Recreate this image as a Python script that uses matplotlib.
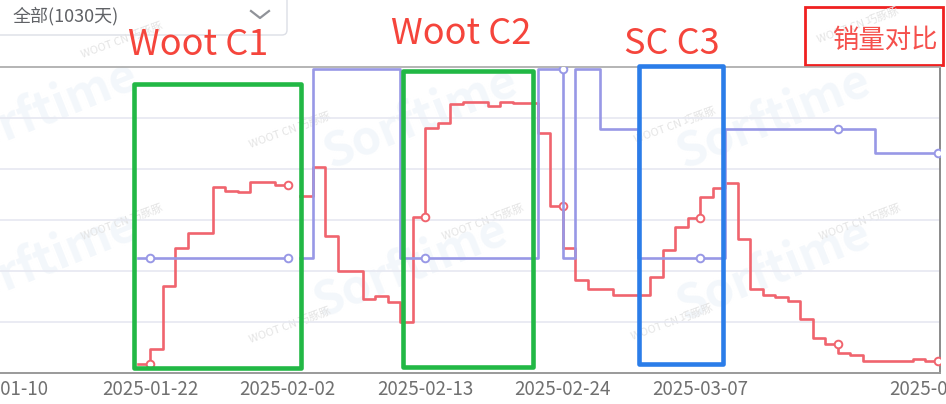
import numpy as np
import pandas as pd
import matplotlib
matplotlib.use("Agg")
import matplotlib.pyplot as plt
import matplotlib.dates as mdates
from matplotlib.patches import Rectangle, FancyBboxPatch

plt.rcParams['font.family'] = ['Noto Sans CJK SC', 'DejaVu Sans']

# daily points 2025-01-21 .. 2025-03-26, relative scale (the chart shows no y labels)
dates = pd.date_range("2025-01-21", "2025-03-26", freq="D")
nan = np.nan
sales = [0.18, 0.18, 0.47, 1.71, 2.45, 2.75, 2.75, 3.65, 3.57, 3.55,
         3.75, 3.75, 3.69, nan, 3.47, 4.04, 2.69, 2.00, 2.00, 1.45,
         1.51, 1.39, 1.00, 3.06, 4.80, 4.91, 5.27, 5.32, 5.32, 5.24,
         5.31, 5.30, 5.29, 4.71, 3.28, 2.45, 1.82, 1.64, 1.64, 1.52,
         1.52, 1.52, 1.88, 2.41, 2.86, 3.04, 3.46, 3.62, 3.73, 2.63,
         1.64, 1.52, 1.49, 1.42, 1.05, 0.68, 0.57, 0.39, 0.35, 0.24,
         0.24, 0.24, 0.24, 0.27, 0.24]
compare = [2.25, 2.25, 2.25, 2.25, 2.25, 2.25, 2.25, 2.25, 2.25, 2.25,
           2.25, 2.25, 2.25, nan, 2.25, 5.97, 5.97, 5.97, 5.97, 5.97,
           5.97, 5.97, 2.25, 2.25, 2.25, 2.25, 2.25, 2.25, 2.25, 2.25,
           2.25, 2.25, 2.25, 5.97, 5.97, 2.25, 5.97, 5.97, 4.78, 4.78,
           4.78, 2.25, 2.25, 2.25, 2.25, 2.25, 2.25, 2.25, 4.78, 4.78,
           4.78, 4.78, 4.78, 4.78, 4.78, 4.78, 4.78, 4.78, 4.78, 4.78,
           4.31, 4.31, 4.31, 4.31, 4.31]
marker_idx = [1, 12, 23, 34, 45, 56, 64]

tick_dates = ["2025-01-10", "2025-01-22", "2025-02-02", "2025-02-13",
              "2025-02-24", "2025-03-07", "2025-03-26"]

# highlighted windows: (label, start, end, bottom, top, colour) in days from 2025-01-11
windows = [("Woot C1", 9.7, 23.1, 0.10, 5.67, "#22b845"),
           ("Woot C2", 31.2, 41.6, 0.11, 5.93, "#22b845"),
           ("SC C3", 50.1, 56.85, 0.18, 6.02, "#2b7de9")]

fig = plt.figure(figsize=(9.46, 4.04), dpi=100)

# background layer in pixel coordinates (watermarks, dropdown, captions)
ov = fig.add_axes([0, 0, 1, 1], zorder=0)
ov.set_xlim(0, 946)
ov.set_ylim(404, 0)
ov.axis("off")

for x, y in [(40, 112), (40, 262), (420, 118), (410, 267), (773, 118), (773, 270)]:
    ov.text(x, y, "Sorftime", fontsize=34, fontweight="bold", color="#f3f7fb",
            rotation=22, ha="center", va="center")
for x, y in [(122, 40), (122, 222), (290, 130), (290, 325), (483, 222),
             (675, 125), (860, 222), (672, 322), (858, 25)]:
    ov.text(x, y, "WOOT CN 巧豚豚", fontsize=8, color="#e4e4e4",
            rotation=20, ha="center", va="center")

ov.add_patch(FancyBboxPatch((-6, -12), 293, 47, boxstyle="round,pad=0,rounding_size=5",
                            fc="none", ec="#dcdfe6", lw=1))
ov.text(13, 16, "全部(1030天)", fontsize=13, fontweight="medium", color="#606266",
        va="center")
ov.plot([251, 260, 269], [11, 18, 11], color="#909399", lw=1.6)

ov.text(198, 55, "Woot C1", fontsize=26, color="#f5453c", ha="center", va="baseline")
ov.text(461, 44, "Woot C2", fontsize=26, color="#f5453c", ha="center", va="baseline")
ov.text(672, 54, "SC C3", fontsize=26, color="#f5453c", ha="center", va="baseline")

ov.add_patch(Rectangle((805, 7), 138, 58, fill=False, ec="#f02020", lw=2))
ov.text(885, 48, "销量对比", fontsize=19, color="#f5504c", ha="center", va="baseline")

# chart
ax = fig.add_axes([0, 31 / 404, 940 / 946, 306 / 404], zorder=1)
ax.set_facecolor("none")

base = mdates.date2num(pd.Timestamp("2025-01-11"))
ax.set_xlim(base - 0.71, base + 74.19)
ax.set_ylim(0, 6)

ax.plot(dates, sales, drawstyle="steps-pre", color="#f0646e", lw=1.9,
        marker="o", markevery=marker_idx, ms=5.5, mfc="white", mew=1.4, zorder=3)
ax.plot(dates, compare, drawstyle="steps-pre", color="#9898e6", lw=1.9,
        marker="o", markevery=marker_idx, ms=5.5, mfc="white", mew=1.4, zorder=4)

for label, x0, x1, y0, y1, col in windows:
    ax.add_patch(Rectangle((base + x0, y0), x1 - x0, y1 - y0, fill=False,
                           ec=col, lw=3.3, joinstyle="round", zorder=6, clip_on=False))

ax.set_yticks([1, 2, 3, 4, 5])
ax.set_yticklabels([])
ax.tick_params(axis="y", length=0)
ax.grid(axis="y", color="#e6e8f1", lw=1.2)
ax.set_axisbelow(True)

ax.set_xticks(mdates.date2num(pd.to_datetime(tick_dates)))
ax.set_xticklabels(tick_dates, color="#707070", fontsize=13.5)
ax.tick_params(axis="x", length=0, pad=4)

ax.spines["left"].set_visible(False)
ax.spines["top"].set_color("#a8a8a8")
ax.spines["top"].set_linewidth(1.2)
ax.spines["bottom"].set_color("#9a9a9a")
ax.spines["bottom"].set_linewidth(1.4)
ax.spines["right"].set_color("#8a8a8a")
ax.spines["right"].set_linewidth(1.4)

fig.savefig("out.png", dpi=100, facecolor="white")
